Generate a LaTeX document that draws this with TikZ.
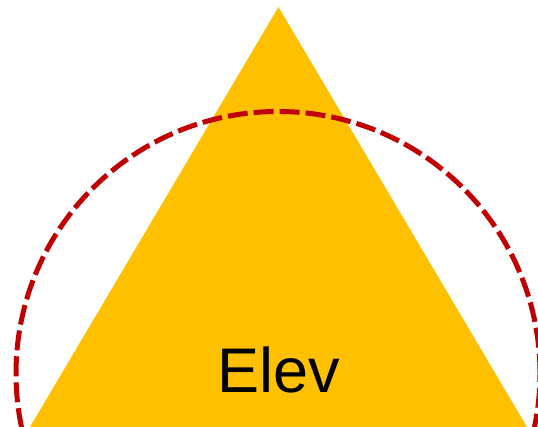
\documentclass[tikz,border=0pt]{standalone}
\usepackage{fontspec}
\setmainfont{Liberation Sans}
\definecolor{tri}{HTML}{FFC000}
\definecolor{ring}{HTML}{C00000}
\begin{document}
\begin{tikzpicture}[x=1pt,y=1pt,
  trifill/.style={fill=tri,draw=none},
  ringline/.style={draw=ring,line width=5pt,dash pattern=on 20pt off 6pt},
  lbl/.style={font=\fontsize{63}{63}\selectfont,inner sep=0pt,anchor=base}]
\useasboundingbox (0,0) rectangle (538,427);
\clip (0,0) rectangle (538,427);
\coordinate (apex) at (278.5,420);
\coordinate (bl) at (30,0);
\coordinate (br) at (527,0);
\fill[trifill] (apex) -- (bl) -- (br) -- cycle;
\coordinate (c) at (278,53.5);
\draw[ringline] (c) circle[radius=262];
\node[lbl] (t) at (279,34) {Elev};
\end{tikzpicture}
\end{document}
